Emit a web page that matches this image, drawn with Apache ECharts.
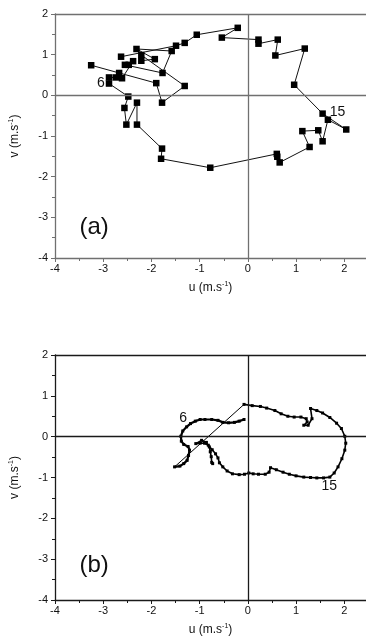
<!DOCTYPE html>
<html>
<head>
<meta charset="utf-8">
<script src="https://cdn.jsdelivr.net/npm/echarts@6/dist/echarts.min.js"></script>
<style>
  html, body { margin: 0; padding: 0; background: #fff; }
  #chart { width: 366px; height: 640px; }
</style>
</head>
<body>
<div id="chart"></div>
<script>
// (a) hourly / half-hourly hodograph points
const uA = [-3.25, -2.67, -1.90, -1.78, -1.31, -2.21, -2.21, -1.93, -2.31, -1.58, -1.77, -2.55, -2.47, -2.38, -2.61, -2.74, -2.88, -2.88,
  -2.48, -2.56, -2.52, -2.30, -2.30, -1.78, -1.80, -0.78, 0.60, 0.61, 0.66, 1.28, 1.13, 1.46, 1.55, 1.66, 2.04, 1.55,
  0.96, 1.18, 0.57, 0.62, 0.22, 0.22, -0.54, -0.21, -1.06, -1.31, -1.49, -2.63];
const vA = [0.74, 0.55, 0.30, -0.18, 0.23, 0.99, 0.85, 0.89, 1.14, 1.09, 0.55, 0.75, 0.75, 0.84, 0.42, 0.44, 0.44, 0.29,
  -0.03, -0.31, -0.72, -0.18, -0.72, -1.31, -1.56, -1.78, -1.44, -1.51, -1.65, -1.27, -0.88, -0.86, -1.13, -0.60, -0.84, -0.45,
  0.26, 1.15, 0.98, 1.37, 1.27, 1.37, 1.42, 1.66, 1.49, 1.29, 1.22, 0.95];

// (b) first stretch: upper-left branch down to the tip
const uB1 = [-0.08, -0.18, -0.28, -0.40, -0.52, -0.62, -0.75, -0.89, -0.99, -1.09, -1.19, -1.27, -1.35, -1.39, -1.38, -1.33, -1.24, -1.21, -1.23, -1.26, -1.33, -1.41, -1.52];
const vB1 = [0.42, 0.38, 0.35, 0.34, 0.35, 0.40, 0.42, 0.42, 0.42, 0.38, 0.32, 0.24, 0.14, 0.01, -0.11, -0.19, -0.24, -0.33, -0.46, -0.58, -0.66, -0.72, -0.74];
// (b) second stretch: top, right side, bottom and back
const uB2 = [-0.08, 0.09, 0.26, 0.39, 0.56, 0.69, 0.83, 0.96, 1.10, 1.21, 1.23, 1.16, 1.25, 1.33, 1.30, 1.43, 1.55, 1.70, 1.84, 1.94, 2.01, 2.03, 2.01, 1.95, 1.87, 1.79, 1.70, 1.57, 1.43, 1.30, 1.16, 1.00, 0.86, 0.73, 0.59, 0.47, 0.44, 0.36, 0.22, 0.11, 0.02, -0.07, -0.18, -0.32, -0.43, -0.52, -0.59, -0.62, -0.67, -0.74, -0.82, -0.90, -0.99, -1.08, -0.96, -0.86, -0.80, -0.78, -0.76, -0.75, -0.73];
const vB2 = [0.79, 0.76, 0.74, 0.70, 0.64, 0.56, 0.50, 0.48, 0.48, 0.44, 0.36, 0.28, 0.28, 0.44, 0.69, 0.64, 0.58, 0.47, 0.33, 0.20, 0.01, -0.16, -0.33, -0.54, -0.74, -0.89, -0.99, -1.01, -1.01, -1.00, -0.99, -0.96, -0.92, -0.87, -0.81, -0.76, -0.87, -0.92, -0.92, -0.91, -0.89, -0.92, -0.93, -0.91, -0.84, -0.74, -0.64, -0.52, -0.42, -0.32, -0.21, -0.16, -0.16, -0.17, -0.09, -0.14, -0.25, -0.37, -0.49, -0.63, -0.66];

// hour labels and panel tags: [u, v, text]
const notesA = [[-3.05, 0.29, '6'], [1.86, -0.42, '15']];
const notesB = [[-1.34, 0.46, '6'], [1.69, -1.22, '15']];
const panelTags = ['(a)', '(b)'];

const font = '"Liberation Sans", Arial, sans-serif';
const pairs = (us, vs) => us.map((u, i) => [u, vs[i]]);

const xMin = -4, xMax = 2.45;

function bottomAxis(grid, color) {
  return {
    gridIndex: grid, type: 'value', position: 'bottom', min: xMin, max: xMax, interval: 1,
    name: 'u (m.s{sup|-1})', nameLocation: 'middle', nameGap: 23,
    nameTextStyle: { fontFamily: font, fontSize: 12, color: '#111',
      rich: { sup: { fontFamily: font, fontSize: 7, verticalAlign: 'top', padding: [0, 0, 7, 0] } } },
    axisLine: { show: true, onZero: false, lineStyle: { color: color, width: 1.3 } },
    axisTick: { show: true, length: 4, lineStyle: { color: color } },
    minorTick: { show: true, splitNumber: 2, length: 3, lineStyle: { color: color } },
    axisLabel: { fontFamily: font, fontSize: 11, color: '#111', margin: 5, showMaxLabel: false },
    splitLine: { show: false }
  };
}
function topAxis(grid, color) {
  return {
    gridIndex: grid, type: 'value', position: 'top', min: xMin, max: xMax,
    axisLine: { show: true, onZero: false, lineStyle: { color: color, width: 1.3 } },
    axisTick: { show: false }, axisLabel: { show: false }, splitLine: { show: false }
  };
}
function leftAxis(grid, color) {
  return {
    gridIndex: grid, type: 'value', min: -4, max: 2, interval: 1,
    name: 'v (m.s{sup|-1})', nameLocation: 'middle', nameGap: 33,
    nameTextStyle: { fontFamily: font, fontSize: 12, color: '#111',
      rich: { sup: { fontFamily: font, fontSize: 7, verticalAlign: 'top', padding: [0, 0, 7, 0] } } },
    axisLine: { show: true, onZero: false, lineStyle: { color: color, width: 1.3 } },
    axisTick: { show: true, length: 4, lineStyle: { color: color } },
    minorTick: { show: true, splitNumber: 2, length: 3, lineStyle: { color: color } },
    axisLabel: { fontFamily: font, fontSize: 11, color: '#111', margin: 7 },
    splitLine: { show: false }
  };
}
function zeroLines(color) {
  return {
    silent: true, symbol: ['none', 'none'], label: { show: false },
    lineStyle: { type: 'solid', color: color, width: 1.3 },
    data: [{ xAxis: 0 }, { yAxis: 0 }]
  };
}
function noteSeries(xi, yi, notes, size) {
  return {
    type: 'scatter', xAxisIndex: xi, yAxisIndex: yi, symbolSize: 0, silent: true,
    itemStyle: { opacity: 1 },
    data: notes.map(n => ({ value: [n[0], n[1]], name: n[2] })),
    label: { show: true, position: 'inside', formatter: p => p.name,
      fontFamily: font, fontSize: size, color: '#111' }
  };
}

const colA = '#707070', colB = '#1a1a1a';
const chart = echarts.init(document.getElementById('chart'));

chart.setOption({
  animation: false,
  backgroundColor: '#fff',
  grid: [
    { left: 47, top: 14, width: 319, height: 244 },
    { left: 47, top: 355, width: 319, height: 245 }
  ],
  xAxis: [bottomAxis(0, colA), topAxis(0, colA), bottomAxis(1, colB), topAxis(1, colB)],
  yAxis: [leftAxis(0, colA), leftAxis(1, colB)],
  series: [
    {
      type: 'line', xAxisIndex: 0, yAxisIndex: 0, data: pairs(uA, vA),
      symbol: 'rect', symbolSize: 6.5, showAllSymbol: true,
      lineStyle: { color: '#111', width: 1 }, itemStyle: { color: '#000' },
      markLine: zeroLines(colA), z: 3
    },
    {
      type: 'line', xAxisIndex: 2, yAxisIndex: 1, data: pairs(uB1, vB1),
      symbol: 'rect', symbolSize: 3, showAllSymbol: true,
      lineStyle: { color: '#000', width: 2.2 }, itemStyle: { color: '#000' },
      markLine: zeroLines(colB), z: 3
    },
    {
      // thin jump between the two stretches
      type: 'line', xAxisIndex: 2, yAxisIndex: 1,
      data: [[uB1[uB1.length - 1], vB1[vB1.length - 1]], [uB2[0], vB2[0]]],
      symbol: 'none', lineStyle: { color: '#000', width: 1 }, z: 3
    },
    {
      type: 'line', xAxisIndex: 2, yAxisIndex: 1, data: pairs(uB2, vB2),
      symbol: 'rect', symbolSize: 3, showAllSymbol: true,
      lineStyle: { color: '#000', width: 1.6 }, itemStyle: { color: '#000' }, z: 3
    },
    noteSeries(0, 0, notesA, 14),
    noteSeries(2, 1, notesB, 14),
    noteSeries(0, 0, [[-3.19, -3.25, panelTags[0]]], 24),
    noteSeries(2, 1, [[-3.19, -3.15, panelTags[1]]], 24)
  ]
});
</script>
</body>
</html>
